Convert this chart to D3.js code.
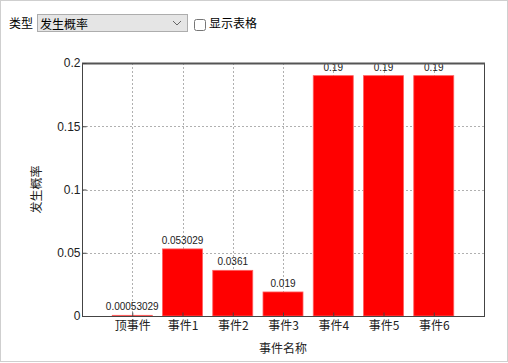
<!DOCTYPE html>
<html lang="zh">
<head>
<meta charset="utf-8">
<title>发生概率</title>
<script src="https://cdn.jsdelivr.net/npm/d3@7"></script>
<style>
body { margin: 0; background: #fff; font-family: "Noto Sans CJK SC", "Noto Sans", sans-serif; }
#wrap { position: relative; width: 506px; height: 360px; border: 1px solid #cfcfcf; overflow: hidden; }
#bar { position: absolute; left: 8px; top: 11px; font-size: 12px; color: #000; z-index: 2; }
#bar span, #bar select, #bar label, #bar input { vertical-align: middle; }
select { width: 151px; height: 18px; margin-left: 4px; font-size: 12px; font-family: inherit; border: 1px solid #adadad; padding: 0 2px;
  -webkit-appearance: none; appearance: none; border-radius: 0;
  background: #e5e5e5 url("data:image/svg+xml;utf8,<svg xmlns='http://www.w3.org/2000/svg' width='10' height='6'><path d='M1 1 L5 5 L9 1' fill='none' stroke='%23666' stroke-width='1'/></svg>") no-repeat right 5px center; }
input[type=checkbox] { width: 12px; height: 12px; margin: 0 3px 0 6px; }
svg { position: absolute; left: 0; top: 0; }
</style>
</head>
<body>
<div id="wrap">
  <div id="bar">
    <span>类型</span><select><option>发生概率</option></select><label><input type="checkbox">显示表格</label>
  </div>
  <div id="chart"></div>
</div>
<script>
// data
var categories = ["顶事件", "事件1", "事件2", "事件3", "事件4", "事件5", "事件6"];
var values = [0.00053029, 0.053029, 0.0361, 0.019, 0.19, 0.19, 0.19];
var labels = ["0.00053029", "0.053029", "0.0361", "0.019", "0.19", "0.19", "0.19"];
var yTicks = [0, 0.05, 0.1, 0.15, 0.2];
var yTickLabels = ["0", "0.05", "0.1", "0.15", "0.2"];

var w = 506, h = 360;
var pLeft = 81, pTop = 62, pRight = 483, pBottom = 315;

var svg = d3.select("#chart").append("svg").attr("width", w).attr("height", h);

var x = d3.scaleLinear().domain([0, 8]).range([pLeft, pRight]);
var y = d3.scaleLinear().domain([0, 0.2]).range([pBottom, pTop]);

// grid
svg.append("g").selectAll("line").data(yTicks.slice(1, -1)).enter().append("line")
  .attr("x1", pLeft).attr("x2", pRight)
  .attr("y1", function(d) { return Math.round(y(d)) + 0.5; })
  .attr("y2", function(d) { return Math.round(y(d)) + 0.5; })
  .attr("stroke", "#b0b0b0").attr("stroke-dasharray", "2,2");
svg.append("g").selectAll("line").data(categories).enter().append("line")
  .attr("x1", function(d, i) { return Math.round(x(i + 1)) + 0.5; })
  .attr("x2", function(d, i) { return Math.round(x(i + 1)) + 0.5; })
  .attr("y1", pTop).attr("y2", pBottom)
  .attr("stroke", "#b0b0b0").attr("stroke-dasharray", "2,2");

// bars
var bw = 40;
svg.append("g").selectAll("rect").data(values).enter().append("rect")
  .attr("x", function(d, i) { return x(i + 1) - bw / 2; })
  .attr("y", function(d) { return y(d); })
  .attr("width", bw)
  .attr("height", function(d) { return pBottom - y(d); })
  .attr("fill", "#ff0000")
  .attr("stroke", "#ff6060").attr("stroke-width", 0.8);

// value labels
svg.append("g").selectAll("text").data(values).enter().append("text")
  .attr("x", function(d, i) { return x(i + 1); })
  .attr("y", function(d) { return y(d) - 5; })
  .attr("text-anchor", "middle")
  .attr("font-size", "10px")
  .attr("font-family", "Liberation Sans, Arial, sans-serif")
  .attr("fill", "#222")
  .text(function(d, i) { return labels[i]; });

// frame
svg.append("rect").attr("x", pLeft + 0.5).attr("y", pTop + 0.5)
  .attr("width", pRight - pLeft).attr("height", pBottom - pTop)
  .attr("fill", "none").attr("stroke", "#444");
svg.append("line").attr("x1", pLeft).attr("x2", pRight + 1).attr("y1", pTop + 0.5).attr("y2", pTop + 0.5)
  .attr("stroke", "#555").attr("stroke-width", 2);

// axes
var yAxis = d3.axisLeft(y).tickValues(yTicks).tickSize(-4)
  .tickFormat(function(d, i) { return yTickLabels[i]; });
var gy = svg.append("g").attr("transform", "translate(" + (pLeft + 0.5) + ",0)").call(yAxis);
gy.select(".domain").remove();
gy.selectAll("line").attr("stroke", "#444");
gy.selectAll("text").attr("x", -2).attr("font-size", "12px").attr("fill", "#222")
  .attr("font-family", "Liberation Sans, Arial, sans-serif");

var xAxis = d3.axisBottom(x).tickValues(d3.range(1, categories.length + 1)).tickSize(-4)
  .tickFormat(function(d) { return categories[d - 1]; });
var gx = svg.append("g").attr("transform", "translate(0," + (pBottom + 0.5) + ")").call(xAxis);
gx.select(".domain").remove();
gx.selectAll("line").attr("stroke", "#444");
gx.selectAll("text").attr("y", 5).attr("font-size", "12px").attr("fill", "#222")
  .attr("font-family", "Noto Sans CJK SC, sans-serif");

// titles
svg.append("text").attr("x", (pLeft + pRight) / 2).attr("y", 352)
  .attr("text-anchor", "middle").attr("font-size", "12px").attr("fill", "#222")
  .text("事件名称");
svg.append("text").attr("transform", "translate(40," + ((pTop + pBottom) / 2) + ") rotate(-90)")
  .attr("text-anchor", "middle").attr("font-size", "12px").attr("fill", "#222")
  .text("发生概率");
</script>
</body>
</html>
